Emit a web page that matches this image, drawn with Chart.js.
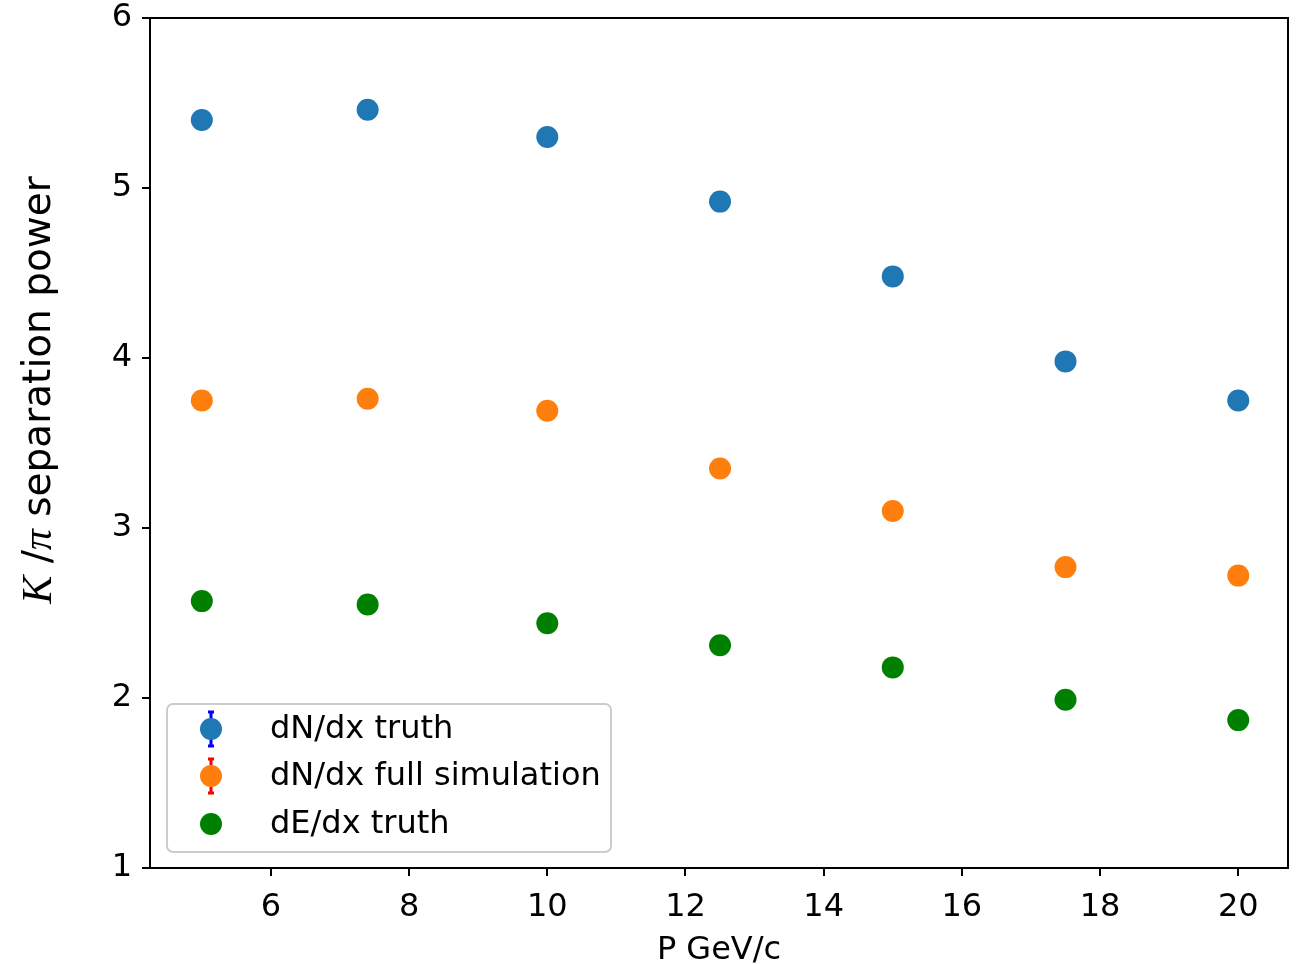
<!DOCTYPE html>
<html>
<head>
<meta charset="utf-8">
<script src="https://cdn.jsdelivr.net/npm/chart.js@4.4.1/dist/chart.umd.min.js"></script>
<style>
html,body{margin:0;padding:0;background:#fff}
#wrap{width:1299px;height:964px}
</style>
</head>
<body>
<div id="wrap"><canvas id="mainChart" width="1299" height="964"></canvas></div>
<script>

const momentum=[5,7.4,10,12.5,15,17.5,20]
const dndxTruth=[5.40,5.46,5.30,4.92,4.48,3.98,3.75]
const dndxFullSim=[3.75,3.76,3.69,3.35,3.10,2.77,2.72]
const dedxTruth=[2.57,2.55,2.44,2.31,2.18,1.99,1.87]
const xTicks=[6,8,10,12,14,16,18,20]
const yTicks=[1,2,3,4,5,6]

const seriesNames=["dN/dx truth","dN/dx full simulation","dE/dx truth"]
const seriesColors=["#1f77b4","#ff7f0e","#008000"]
const errColors=["#0000ff","#ff0000",null]

function toPoints(ys){
return momentum.map((x,i)=>({x:x,y:ys[i]}))
}

const FONT="'DejaVu Sans', sans-serif"

// box round the plot area, like matplotlib spines
const framePlugin={
id:"frame",
afterDraw(chart){
const {ctx,chartArea}=chart
ctx.save()
ctx.strokeStyle="#000"
ctx.lineWidth=2
ctx.strokeRect(chartArea.left,chartArea.top,chartArea.right-chartArea.left,chartArea.bottom-chartArea.top)
ctx.restore()
}
}

// y title with italic K and pi
const yTitlePlugin={
id:"ytitle",
afterDraw(chart){
const ctx=chart.ctx
const parts=[
{t:"K",f:"italic 42px 'Liberation Serif', serif"},
{t:" /",f:"39px "+FONT},
{t:"π",f:"italic 42px 'Liberation Serif', serif"},
{t:" separation power",f:"39px "+FONT}
]
ctx.save()
let total=0
parts.forEach(p=>{ctx.font=p.f;p.w=ctx.measureText(p.t).width;total+=p.w})
ctx.translate(40,390)
ctx.rotate(-Math.PI/2)
ctx.fillStyle="#000"
ctx.textBaseline="middle"
let x=-total/2
parts.forEach(p=>{ctx.font=p.f;ctx.fillText(p.t,x,0);x+=p.w})
ctx.restore()
}
}

const legendPlugin={
id:"boxlegend",
afterDraw(chart){
const ctx=chart.ctx
ctx.save()
const bx=167,by=704,bw=444,bh=148
ctx.fillStyle="rgba(255,255,255,0.8)"
ctx.strokeStyle="#cccccc"
ctx.lineWidth=2
ctx.beginPath()
ctx.roundRect(bx,by,bw,bh,6)
ctx.fill()
ctx.stroke()
const rows=[729,776,824]
rows.forEach((y,i)=>{
if(errColors[i]){
ctx.strokeStyle=errColors[i]
ctx.lineWidth=3
ctx.beginPath()
ctx.moveTo(211,y-17);ctx.lineTo(211,y+17)
ctx.moveTo(208,y-17);ctx.lineTo(214,y-17)
ctx.moveTo(208,y+17);ctx.lineTo(214,y+17)
ctx.stroke()
}
ctx.fillStyle=seriesColors[i]
ctx.beginPath()
ctx.arc(211,y,11,0,Math.PI*2)
ctx.fill()
ctx.fillStyle="#000"
ctx.font="32px "+FONT
ctx.textBaseline="middle"
ctx.fillText(seriesNames[i],270,y+1)
})
ctx.restore()
}
}

const datasets=[dndxTruth,dndxFullSim,dedxTruth].map((vals,i)=>({
label:seriesNames[i],
data:toPoints(vals),
backgroundColor:seriesColors[i],
borderWidth:0,
pointRadius:11,
pointHoverRadius:11
}))

const ctx=document.getElementById("mainChart")

new Chart(ctx,{
type:"scatter",
data:{datasets:datasets},
options:{
responsive:false,
animation:false,
layout:{padding:{top:18,right:7,left:0,bottom:0}},
plugins:{legend:{display:false},tooltip:{enabled:false}},
scales:{
x:{
type:"linear",
min:4.25,
max:20.72,
afterBuildTicks(scale){scale.ticks=xTicks.map(v=>({value:v}))},
afterFit(scale){scale.height=96;scale.paddingLeft=0;scale.paddingRight=0},
border:{display:false},
grid:{drawOnChartArea:false,drawTicks:true,tickLength:8,color:"#000",lineWidth:2},
ticks:{color:"#000",font:{family:FONT,size:32},padding:12,maxRotation:0},
title:{display:true,text:"P GeV/c",color:"#000",font:{family:FONT,size:32},padding:{top:0,bottom:-6}}
},
y:{
type:"linear",
min:1,
max:6,
afterBuildTicks(scale){scale.ticks=yTicks.map(v=>({value:v}))},
afterFit(scale){scale.width=150;scale.paddingTop=0;scale.paddingBottom=0},
border:{display:false},
grid:{drawOnChartArea:false,drawTicks:true,tickLength:8,color:"#000",lineWidth:2},
ticks:{color:"#000",font:{family:FONT,size:32},padding:10}
}
}
},
plugins:[framePlugin,yTitlePlugin,legendPlugin]
})

</script>
</body>
</html>
